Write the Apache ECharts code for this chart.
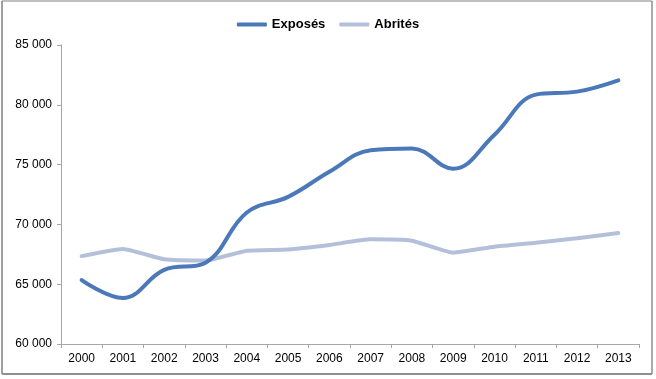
<!DOCTYPE html>
<html>
<head>
<meta charset="utf-8">
<script src="https://cdn.jsdelivr.net/npm/echarts@6/dist/echarts.min.js"></script>
<style>
html,body{margin:0;padding:0;background:#fff;}
#c{width:656px;height:379px;}
</style>
</head>
<body>
<div id="c"></div>
<script>
const years = ['2000','2001','2002','2003','2004','2005','2006','2007','2008','2009','2010','2011','2012','2013'];
const exposes = [65350, 63850, 66200, 66800, 71000, 72300, 74400, 76200, 76350, 74650, 77500, 80850, 81100, 82050];
const abrites = [67350, 67950, 67080, 66980, 67800, 67900, 68280, 68750, 68640, 67640, 68140, 68470, 68840, 69280];
const yTicks = { min: 60000, max: 85000, interval: 5000 };

const chart = echarts.init(document.getElementById('c'), null, { renderer: 'canvas' });
const fmt = v => String(v).replace(/\B(?=(\d{3})+(?!\d))/g, ' ');
chart.setOption({
  animation: false,
  backgroundColor: '#fff',
  textStyle: { fontFamily: 'Liberation Sans, Arial, sans-serif' },
  legend: {
    top: 13,
    left: 'center',
    itemWidth: 30,
    itemHeight: 4,
    itemGap: 14,
    icon: 'roundRect',
    textStyle: { fontWeight: 'bold', fontSize: 13, color: '#000', fontFamily: 'Liberation Sans, Arial, sans-serif' },
    data: ['Exposés', 'Abrités']
  },
  grid: { left: 61, right: 17, top: 45, bottom: 35, containLabel: false },
  xAxis: {
    type: 'category',
    data: years,
    boundaryGap: true,
    axisLine: { lineStyle: { color: '#a6a6a6', width: 1 } },
    axisTick: { show: true, length: 4, lineStyle: { color: '#a6a6a6' } },
    axisLabel: { color: '#000', fontSize: 12, margin: 9 },
    splitLine: { show: false }
  },
  yAxis: {
    type: 'value',
    min: yTicks.min, max: yTicks.max, interval: yTicks.interval,
    axisLine: { show: true, lineStyle: { color: '#a6a6a6', width: 1 } },
    axisTick: { show: true, length: 4, lineStyle: { color: '#a6a6a6' } },
    axisLabel: { color: '#000', fontSize: 12, margin: 9, formatter: fmt },
    splitLine: { show: false }
  },
  graphic: [
    { type: 'line', shape: { x1: 2, y1: 1, x2: 652, y2: 1 }, style: { stroke: '#c0c0c0', lineWidth: 2 } },
    { type: 'line', shape: { x1: 2, y1: 1, x2: 2, y2: 374 }, style: { stroke: '#7f7f7f', lineWidth: 1.5 } },
    { type: 'line', shape: { x1: 2, y1: 374, x2: 652, y2: 374 }, style: { stroke: '#8f8f8f', lineWidth: 2 } },
    { type: 'line', shape: { x1: 652, y1: 1, x2: 652, y2: 374 }, style: { stroke: '#8f8f8f', lineWidth: 1.5 } }
  ],
  series: [
    {
      name: 'Exposés', type: 'line', data: exposes, smooth: 0.4,
      showSymbol: false, symbol: 'none',
      lineStyle: { color: '#4a78b8', width: 4, cap: 'round' },
      itemStyle: { color: '#4a78b8' }, z: 3
    },
    {
      name: 'Abrités', type: 'line', data: abrites, smooth: 0.15,
      showSymbol: false, symbol: 'none',
      lineStyle: { color: '#b4c0da', width: 4, cap: 'round' },
      itemStyle: { color: '#b4c0da' }, z: 2
    }
  ]
});
</script>
</body>
</html>
